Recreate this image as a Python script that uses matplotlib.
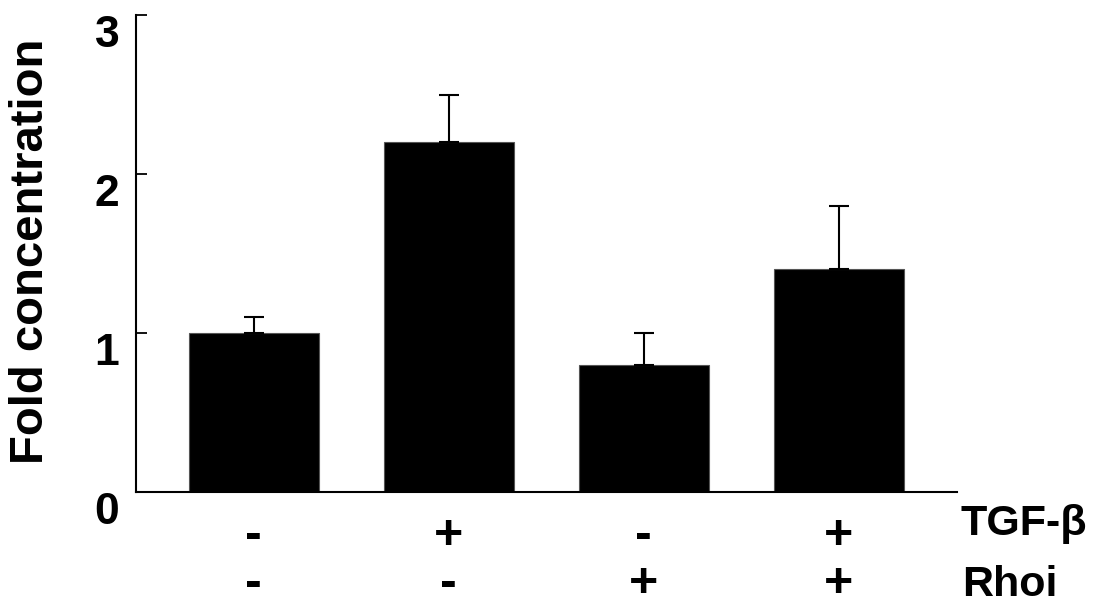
import matplotlib
matplotlib.use('Agg')
import matplotlib.pyplot as plt

plt.rcParams['font.family'] = ['Liberation Sans', 'DejaVu Sans']
plt.rcParams['font.weight'] = 'bold'

# data
groups = [0, 1, 2, 3]
fold = [1.0, 2.2, 0.8, 1.4]
err_up = [0.1, 0.3, 0.2, 0.4]
tgf_row = ['-', '+', '-', '+']
rhoi_row = ['-', '-', '+', '+']
y_ticks = [0, 1, 2, 3]

fig = plt.figure(figsize=(11, 6.08), dpi=100)
ax = fig.add_axes([0.1236, 0.1908, 0.7464, 0.7845])

ax.bar(groups, fold, width=0.667, color='black', edgecolor='#555555', linewidth=0.8, zorder=2)
ax.errorbar(groups, fold, yerr=[[0] * len(fold), err_up], fmt='none', ecolor='black',
            elinewidth=1.5, capsize=7, capthick=1.5, zorder=3)

ax.set_xlim(-0.605, 3.608)
ax.set_ylim(0, 3)
ax.set_xticks([])
ax.set_yticks(y_ticks)
ax.set_yticklabels([str(t) for t in y_ticks])
ax.tick_params(axis='y', direction='in', length=8, width=1.3, pad=12, labelsize=32)
for lab in ax.get_yticklabels():
    lab.set_verticalalignment('top')
    lab.set_fontweight('bold')

for s in ['top', 'right']:
    ax.spines[s].set_visible(False)
for s in ['left', 'bottom']:
    ax.spines[s].set_linewidth(1.5)

fig.text(0.028, 0.587, 'Fold concentration', rotation=90, ha='center', va='center',
         fontsize=34, fontweight='bold')

# +/- rows under the bars
trans = ax.get_xaxis_transform()
for g, a, b in zip(groups, tgf_row, rhoi_row):
    ax.text(g, -0.1195, a, transform=trans, ha='center', va='baseline', fontsize=36,
            fontweight='bold', clip_on=False)
    ax.text(g, -0.2201, b, transform=trans, ha='center', va='baseline', fontsize=36,
            fontweight='bold', clip_on=False)

ax.text(1.004, -0.090, 'TGF-β', transform=ax.transAxes, ha='left', va='baseline',
        fontsize=31, fontweight='bold', clip_on=False)
ax.text(1.006, -0.218, 'Rhoi', transform=ax.transAxes, ha='left', va='baseline',
        fontsize=31, fontweight='bold', clip_on=False)

fig.savefig('out.png', dpi=100, facecolor='white')
